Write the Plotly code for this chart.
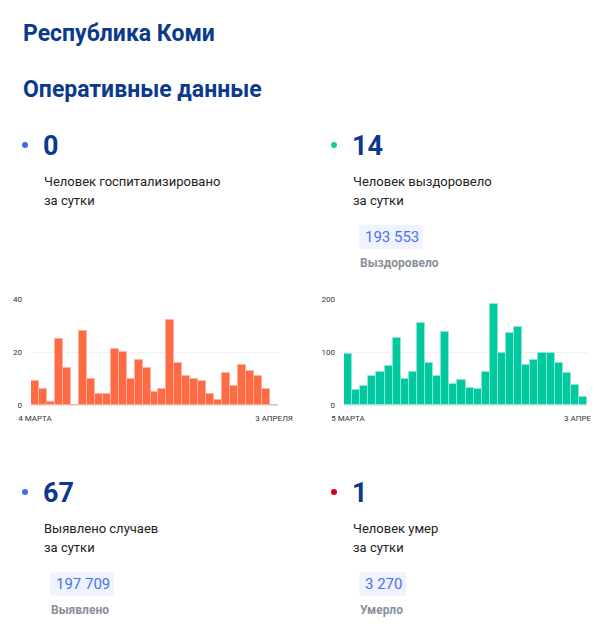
import plotly.graph_objects as go

# the page puts the figure 8px in from the top left corner
OFF = 8
W, H = 599 - OFF, 624 - OFF

# daily numbers
hosp_days = list(range(1, 32))  # 4 March .. 3 April
hosp_values = [9, 6, 1, 25, 14, 0, 28, 10, 4, 4, 21, 20, 10, 17, 14, 5,
               6, 32, 16, 11, 10, 9, 4, 2, 12, 7, 15, 13, 11, 6, 0]
hosp_ticks = ["4 МАРТА", "3 АПРЕЛЯ"]

recov_days = list(range(1, 31))  # 5 March .. 3 April
recov_values = [96, 29, 35, 55, 62, 74, 127, 49, 62, 155, 79, 55, 137, 39,
                47, 32, 30, 62, 191, 98, 135, 147, 75, 85, 98, 98, 79, 60,
                37, 15]
recov_ticks = ["5 МАРТА", "3 АПРЕЛЯ"]

# headline figures
daily_numbers = ["0", "14", "67", "1"]
daily_labels = ["Человек госпитализировано", "Человек выздоровело",
                "Выявлено случаев", "Человек умер"]
totals = [None, "193 553", "197 709", "3 270"]
total_labels = [None, "Выздоровело", "Выявлено", "Умерло"]

BLUE = "#0b3a8d"
FONT = "Roboto"


def px(x):
    return (x - OFF) / W


def py(y):
    return 1 - (y - OFF) / H


fig = go.Figure()

fig.add_trace(go.Bar(
    x=hosp_days, y=hosp_values, xaxis="x", yaxis="y",
    marker=dict(color="#ff6b45", line=dict(color="#ffb09c", width=1)),
    hoverinfo="skip",
))
fig.add_trace(go.Bar(
    x=recov_days, y=recov_values, xaxis="x2", yaxis="y2",
    marker=dict(color="#00c9a1", line=dict(color="#8ee8d3", width=1)),
    hoverinfo="skip",
))

ydom = [py(405), py(299)]
axis_font = dict(family=FONT, size=8, color="#333333")
common_y = dict(showgrid=True, gridcolor="#f0f0f0", zeroline=True,
                zerolinecolor="#e6e6e6", zerolinewidth=1, ticks="",
                tickfont=axis_font, ticklabelstandoff=8, fixedrange=True,
                automargin=False)
common_x = dict(showgrid=False, zeroline=False, ticks="", tickfont=axis_font,
                showline=False, fixedrange=True, automargin=False,
                ticklabelstandoff=7, ticklabeloverflow="allow")

fig.update_layout(
    width=W, height=H,
    margin=dict(l=0, r=0, t=0, b=0),
    paper_bgcolor="white", plot_bgcolor="white",
    showlegend=False, bargap=0,
    font=dict(family=FONT),
    xaxis=dict(domain=[px(31), px(278)], range=[0.5, 31.5],
               tickvals=[hosp_days[0], hosp_days[-1]], ticktext=hosp_ticks,
               anchor="y", **common_x),
    yaxis=dict(domain=ydom, range=[0, 40], tickvals=[0, 20, 40],
               anchor="x", **common_y),
    xaxis2=dict(domain=[px(344), px(587)], range=[0.5, 30.5],
                tickvals=[recov_days[0], recov_days[-1]], ticktext=recov_ticks,
                anchor="y2", **common_x),
    yaxis2=dict(domain=ydom, range=[0, 200], tickvals=[0, 100, 200],
                anchor="x2", **common_y),
)

ann = []
shapes = []

ann.append(dict(text="<b>Республика Коми</b>", x=px(21), y=py(33)))
ann.append(dict(text="<b>Оперативные данные</b>", x=px(21), y=py(89)))
for a in ann:
    a.update(font=dict(family=FONT, size=23, color=BLUE))

dot_colors = ["#3d6cf4", "#13c9a1", "#3d6cf4", "#d0021b"]
cells = [(43, 146), (352, 146), (43, 493), (352, 493)]

for i, (cx, cy) in enumerate(cells):
    shapes.append(dict(type="circle", xref="paper", yref="paper",
                       x0=px(cx - 21), x1=px(cx - 15), y0=py(cy + 2), y1=py(cy - 4),
                       fillcolor=dot_colors[i], line=dict(width=0)))
    ann.append(dict(text="<b>" + daily_numbers[i] + "</b>", x=px(cx - 2), y=py(cy),
                    font=dict(family=FONT, size=27, color=BLUE)))
    ann.append(dict(text=daily_labels[i], x=px(cx - 1), y=py(cy + 35),
                    font=dict(family=FONT, size=13, color="#222222")))
    ann.append(dict(text="за сутки", x=px(cx - 1), y=py(cy + 54),
                    font=dict(family=FONT, size=13, color="#222222")))
    if totals[i]:
        bx = cx + 7
        by = cy + 79
        bw = 10 + 8.3 * len(totals[i].replace(" ", "")) + 4 * totals[i].count(" ")
        r = 4
        x0, x1, y0, y1 = bx, bx + bw, by, by + 24
        path = (f"M {px(x0 + r)} {py(y0)} L {px(x1 - r)} {py(y0)} "
                f"Q {px(x1)} {py(y0)} {px(x1)} {py(y0 + r)} "
                f"L {px(x1)} {py(y1 - r)} Q {px(x1)} {py(y1)} {px(x1 - r)} {py(y1)} "
                f"L {px(x0 + r)} {py(y1)} Q {px(x0)} {py(y1)} {px(x0)} {py(y1 - r)} "
                f"L {px(x0)} {py(y0 + r)} Q {px(x0)} {py(y0)} {px(x0 + r)} {py(y0)} Z")
        shapes.append(dict(type="path", xref="paper", yref="paper", path=path,
                           fillcolor="#eef3fe", line=dict(width=0), layer="below"))
        ann.append(dict(text=totals[i], x=px(bx + 4), y=py(by + 12),
                        font=dict(family=FONT, size=15, color="#4a72f0")))
        ann.append(dict(text="<b>" + total_labels[i] + "</b>", x=px(bx - 1),
                        y=py(by + 38), font=dict(family=FONT, size=12, color="#8a8f99")))

for a in ann:
    a.update(xref="paper", yref="paper", xanchor="left", yanchor="middle",
             showarrow=False)

fig.update_layout(annotations=ann, shapes=shapes)

fig.write_html("out.html", config={"displayModeBar": False})
